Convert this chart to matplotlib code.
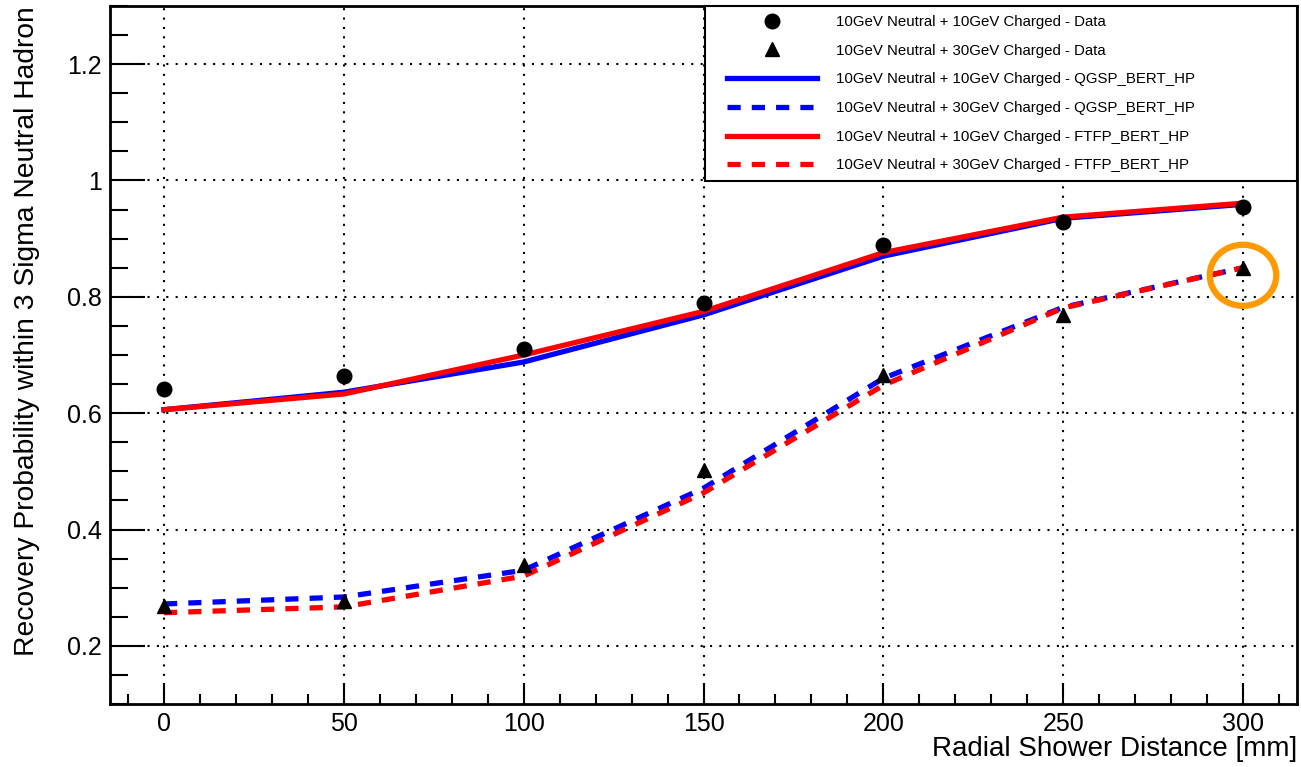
import matplotlib
matplotlib.use("Agg")
import matplotlib.pyplot as plt
from matplotlib.patches import Ellipse
from matplotlib.lines import Line2D
from matplotlib.legend_handler import HandlerLine2D
from matplotlib.ticker import MultipleLocator

plt.rcParams['font.family'] = ['Liberation Sans', 'DejaVu Sans']

# radial shower distance [mm]
distance = [0, 50, 100, 150, 200, 250, 300]

# data points
data_10_10 = [0.642, 0.664, 0.710, 0.789, 0.889, 0.929, 0.954]
data_10_30 = [0.269, 0.277, 0.339, 0.502, 0.666, 0.769, 0.849]

# simulation curves
qgsp_10_10 = [0.606, 0.636, 0.688, 0.769, 0.870, 0.935, 0.959]
qgsp_10_30 = [0.272, 0.284, 0.330, 0.471, 0.660, 0.782, 0.850]
ftfp_10_10 = [0.606, 0.633, 0.700, 0.775, 0.876, 0.937, 0.961]
ftfp_10_30 = [0.257, 0.267, 0.320, 0.463, 0.648, 0.781, 0.850]

labels = [
    "10GeV Neutral + 10GeV Charged - Data",
    "10GeV Neutral + 30GeV Charged - Data",
    "10GeV Neutral + 10GeV Charged - QGSP_BERT_HP",
    "10GeV Neutral + 30GeV Charged - QGSP_BERT_HP",
    "10GeV Neutral + 10GeV Charged - FTFP_BERT_HP",
    "10GeV Neutral + 30GeV Charged - FTFP_BERT_HP",
]

fig = plt.figure(figsize=(13.01, 7.67), dpi=100)
ax = fig.add_axes([0.0846, 0.0821, 0.9969 - 0.0846, 0.9922 - 0.0821])

lw = 3.8
dash = (2.5, 2.1)
h_d1, = ax.plot(distance, data_10_10, 'o', color='black', markersize=10.5, zorder=5)
h_d2, = ax.plot(distance, data_10_30, '^', color='black', markersize=10.5, zorder=5)
h_q1, = ax.plot(distance, qgsp_10_10, '-', color='#0000ff', lw=lw, zorder=3)
h_q2, = ax.plot(distance, qgsp_10_30, '--', color='#0000ff', lw=lw, dashes=dash, zorder=3)
h_f1, = ax.plot(distance, ftfp_10_10, '-', color='#ff0000', lw=lw, zorder=4)
h_f2, = ax.plot(distance, ftfp_10_30, '--', color='#ff0000', lw=lw, dashes=dash, zorder=4)

# highlight of the last 30GeV point
ax.add_patch(Ellipse((distance[-1], 0.837), 18.5, 0.105, fill=False,
                     edgecolor='#ff9900', lw=4.5, zorder=6))

ax.set_xlim(-15, 315)
ax.set_ylim(0.1, 1.3)
ax.xaxis.set_major_locator(MultipleLocator(50))
ax.xaxis.set_minor_locator(MultipleLocator(10))
ax.yaxis.set_major_locator(MultipleLocator(0.2))
ax.yaxis.set_minor_locator(MultipleLocator(0.05))
ax.yaxis.set_major_formatter(plt.FuncFormatter(lambda v, p: f"{v:g}"))

ax.tick_params(which='both', direction='in', top=False, right=False, width=1.5,
               labelsize=18, color='black')
ax.tick_params(axis='x', which='major', length=15, pad=6)
ax.tick_params(axis='x', which='minor', length=7.5)
ax.tick_params(axis='y', which='major', length=25, pad=6)
ax.tick_params(axis='y', which='minor', length=13)
for s in ax.spines.values():
    s.set_linewidth(2)

ax.grid(True, which='major', color='black', linestyle=(0, (1, 3.5)), lw=1.5)

ax.set_xlabel("Radial Shower Distance [mm]", fontsize=20, loc='right', labelpad=0)
ax.set_ylabel("Recovery Probability within 3 Sigma Neutral Hadron", fontsize=20.3,
              loc='top', labelpad=19)

leg = ax.legend([h_d1, h_d2, h_q1, h_q2, h_f1, h_f2], labels, loc='upper right',
                bbox_to_anchor=(0.501, 0.0, 0.499, 1.0), mode='expand',
                borderaxespad=0, fancybox=False, framealpha=1, edgecolor='black',
                fontsize=10.8, handlelength=6.87, handletextpad=1.27,
                labelspacing=0.98, borderpad=0.6,
                handler_map={Line2D: HandlerLine2D(xpad=0.87)})
leg.get_frame().set_linewidth(1.5)

fig.savefig("out.png", dpi=100)
